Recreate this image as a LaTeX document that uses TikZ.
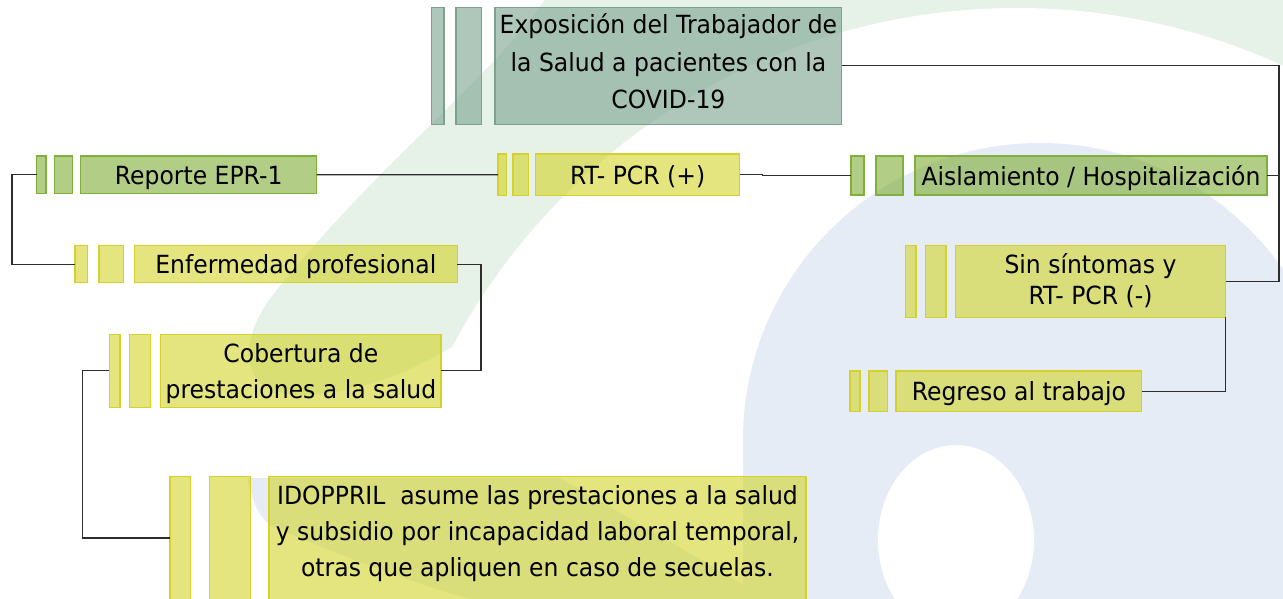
\documentclass[tikz,border=0pt]{standalone}
\usepackage{fontspec}
\setmainfont{DejaVu Sans}[FakeStretch=0.94]
\definecolor{bggreen}{RGB}{230,241,232}
\definecolor{bgblue}{RGB}{229,236,245}
\definecolor{ylwfill}{RGB}{210,212,40}
\definecolor{ylwline}{RGB}{212,209,45}
\definecolor{grnfill}{RGB}{127,172,52}
\definecolor{grnline}{RGB}{128,176,60}
\definecolor{gryfill}{RGB}{123,162,143}
\definecolor{gryline}{RGB}{122,160,143}
\definecolor{wirecol}{RGB}{45,45,45}
\begin{document}
\begin{tikzpicture}[x=1pt,y=-1pt,
  box/.style={rectangle, draw, line width=1.3pt, fill opacity=0.6, draw opacity=1, text opacity=1, inner sep=0pt, outer sep=0pt, anchor=north west},
  ybox/.style={box, draw=ylwline, fill=ylwfill},
  gbox/.style={box, draw=grnline, fill=grnfill},
  sbox/.style={box, draw=gryline, fill=gryfill},
  lbl/.style={anchor=base, inner sep=0pt, font=\fontsize{25}{30}\selectfont, text=black},
  wire/.style={draw=wirecol, line width=1.3pt},
]
\useasboundingbox (0,0) rectangle (1283,598);
\clip (0,0) rectangle (1283,598);
\fill[white] (0,0) rectangle (1283,598);
% background watermark
\fill[bggreen] (547,-3) -- (1290,-3) -- (1290,66) -- (470,335)
  .. controls (400,385) and (300,410) .. (262,385)
  .. controls (240,365) and (248,330) .. (269,300)
  .. controls (370,170) and (490,80) .. (547,-3) -- cycle;
\fill[white] (1017,648) circle[radius=640];
\fill[bgblue] (1040,440) circle[radius=297];
\fill[bgblue] (743,440) rectangle (1290,605);
\fill[white] (956,540) ellipse[x radius=78, y radius=95];
\fill[bgblue] (247,478) .. controls (252,500) and (258,515) .. (270,525)
  .. controls (350,560) and (420,585) .. (473,600) -- (770,600) -- (560,478) -- cycle;

\coordinate (bus) at (1279,0);
% boxes
\node[sbox, minimum width=12.3pt, minimum height=117pt] (expo1) at (431.7,7.3) {};
\node[sbox, minimum width=25.7pt, minimum height=117pt] (expo2) at (456,7.3) {};
\node[sbox, minimum width=346.7pt, minimum height=117pt] (expo) at (495,7.3) {};

\node[gbox, minimum width=9.3pt, minimum height=37.3pt] (rep1) at (36.7,156) {};
\node[gbox, minimum width=18pt, minimum height=37.3pt] (rep2) at (54.3,156) {};
\node[gbox, minimum width=236pt, minimum height=37.3pt] (rep) at (80.7,156) {};

\node[ybox, minimum width=8.5pt, minimum height=41.6pt] (rt1) at (498,154) {};
\node[ybox, minimum width=15.5pt, minimum height=41.6pt] (rt2) at (513,154) {};
\node[ybox, minimum width=204.1pt, minimum height=41.6pt] (rt) at (535.6,154) {};

\node[gbox, minimum width=13pt, minimum height=39pt] (ais1) at (851,156) {};
\node[gbox, minimum width=27pt, minimum height=39pt] (ais2) at (876,156) {};
\node[gbox, minimum width=352pt, minimum height=39pt] (ais) at (915,156) {};

\node[ybox, minimum width=12.7pt, minimum height=37pt] (enf1) at (75,245.7) {};
\node[ybox, minimum width=24.3pt, minimum height=37pt] (enf2) at (99,245.7) {};
\node[ybox, minimum width=323pt, minimum height=37pt] (enf) at (134.3,245.7) {};

\node[ybox, minimum width=10.7pt, minimum height=73pt] (cob1) at (109.3,334.3) {};
\node[ybox, minimum width=21.4pt, minimum height=73pt] (cob2) at (129.3,334.3) {};
\node[ybox, minimum width=280.3pt, minimum height=73pt] (cob) at (160.7,334.3) {};

\node[ybox, minimum width=10.7pt, minimum height=71.6pt] (sin1) at (905.3,245.7) {};
\node[ybox, minimum width=20.7pt, minimum height=71.6pt] (sin2) at (925.3,245.7) {};
\node[ybox, minimum width=270.4pt, minimum height=71.6pt] (sin) at (955.3,245.7) {};

\node[ybox, minimum width=10pt, minimum height=40.7pt] (reg1) at (850,371) {};
\node[ybox, minimum width=18.7pt, minimum height=40.7pt] (reg2) at (869,371) {};
\node[ybox, minimum width=245.7pt, minimum height=40.7pt] (reg) at (896,371) {};

\node[ybox, minimum width=20.7pt, minimum height=122.6pt] (ido1) at (170,476.7) {};
\node[ybox, minimum width=40.6pt, minimum height=122.6pt] (ido2) at (209.7,476.7) {};
\node[ybox, minimum width=537pt, minimum height=122.6pt] (ido) at (269,476.7) {};

% connectors
\draw[wire] (rep.east) -- (rt1.west);
\draw[wire] (rt.east) -- ++(23,0) |- (ais1.west);
\draw[wire] (expo.east) -- (expo.east -| bus) -- (sin.east -| bus) -- (sin.east);
\draw[wire] (ais.east) -- (ais.east -| bus);
\draw[wire] (sin.south east) |- (reg.east);
\draw[wire] (rep1.west) -- ++(-24.7,0) |- (enf1.west);
\draw[wire] (enf.east) -- ++(23.7,0) |- (cob.east);
\draw[wire] (cob1.west) -- ++(-27,0) |- (ido1.west);

% labels
\node[lbl] (expoa) at (668.4,33.5) {Exposición del Trabajador de};
\node[lbl] (expob) at (668.4,71) {la Salud a pacientes con la};
\node[lbl] (expoc) at (668.4,108.5) {COVID-19};
\node[lbl] (repa) at (198.7,184.3) {Reporte EPR-1};
\node[lbl] (rta) at (637.6,184.4) {RT- PCR (+)};
\node[lbl] (aisa) at (1091,185) {Aislamiento / Hospitalización};
\node[lbl] (enfa) at (295.8,273.8) {Enfermedad profesional};
\node[lbl] (coba) at (300.9,362.7) {Cobertura de};
\node[lbl] (cobb) at (300.9,398.3) {prestaciones a la salud};
\node[lbl] (sina) at (1090.5,273.3) {Sin síntomas y};
\node[lbl] (sinb) at (1090.5,304) {RT- PCR (-)};
\node[lbl] (rega) at (1018.9,400.8) {Regreso al trabajo};
\node[lbl] (idoa) at (537.5,504.3) {IDOPPRIL\ \ asume las prestaciones a la salud};
\node[lbl] (idob) at (537.5,540) {y subsidio por incapacidad laboral temporal,};
\node[lbl] (idoc) at (537.5,576) {otras que apliquen en caso de secuelas.};
\end{tikzpicture}
\end{document}
